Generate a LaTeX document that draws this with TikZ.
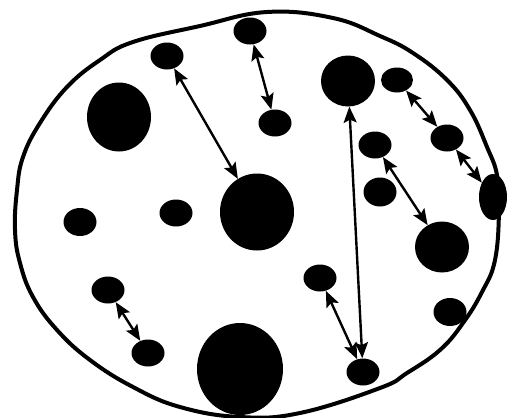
\documentclass[tikz,border=0pt]{standalone}
\usepackage{tikz}
\usetikzlibrary{arrows.meta,shapes.geometric}
\tikzset{
  grain/.style={
    ellipse,
    fill=black,
    inner sep=0pt,
    minimum width=33pt,
    minimum height=27pt
  },
  midgrain/.style={
    grain,
    minimum width=54pt,
    minimum height=51pt
  },
  rim/.style={line width=4pt},
  hop/.style={
    line width=2.4pt,
    arrows={Stealth[length=16pt,width=13pt,inset=3pt]-Stealth[length=16pt,width=13pt,inset=3pt]}
  }
}

\begin{document}
\begin{tikzpicture}[x=1pt,y=-1pt]
  \useasboundingbox (0,0) rectangle (507,418);
  % outer boundary
  \draw[rim] plot[smooth cycle,tension=0.7] coordinates {
    (267,12) (333,18) (380,36) (413,53) (447,80) (470,110) (487,147)
    (497,175) (499,210) (495,260) (482,292) (463,323) (440,350)
    (407,373) (380,388) (300,413) (240,417) (180,407) (133,387)
    (90,360) (57,330) (33,297) (20,263) (15,230) (17,190) (23,157)
    (40,123) (67,87) (100,60) (133,42) (200,26)
  };
  % grains
  \node[grain] (g1) at (167,56) {};
  \node[grain] (g2) at (250,31) {};
  \node[grain,minimum width=64pt,minimum height=69pt] (g3) at (119,117) {};
  \node[grain] (g4) at (275,123) {};
  \node[grain,minimum width=74pt,minimum height=77pt] (g5) at (257,212) {};
  \node[midgrain] (g6) at (348,81) {};
  \node[grain,minimum width=32pt,minimum height=25pt] (g7) at (397,80) {};
  \node[grain] (g8) at (447,138) {};
  \node[grain] (g9) at (375,145) {};
  \node[grain,minimum height=29pt] (g10) at (380,192) {};
  \node[grain,minimum width=28pt,minimum height=46pt] (g11) at (493,197) {};
  \node[midgrain] (g12) at (442,247) {};
  \node[grain] (g13) at (320,278) {};
  \node[grain,minimum height=28pt] (g14) at (450,312) {};
  \node[grain] (g15) at (363,372) {};
  \node[grain,minimum width=86pt,minimum height=92pt] (g16) at (240,369) {};
  \node[grain,minimum height=28pt] (g17) at (80,222) {};
  \node[grain] (g18) at (176,213) {};
  \node[grain] (g19) at (108,290) {};
  \node[grain] (g20) at (148,353) {};
  % jumps
  \draw[hop] (g1) -- (g5);
  \draw[hop] (g2) -- (g4);
  \draw[hop] (g6) -- (g15);
  \draw[hop] (g13) -- (g15);
  \draw[hop] (g9) -- (g12);
  \draw[hop] (g7) -- (g8);
  \draw[hop] (g8) -- (g11);
  \draw[hop] (g19) -- (g20);
\end{tikzpicture}
\end{document}
